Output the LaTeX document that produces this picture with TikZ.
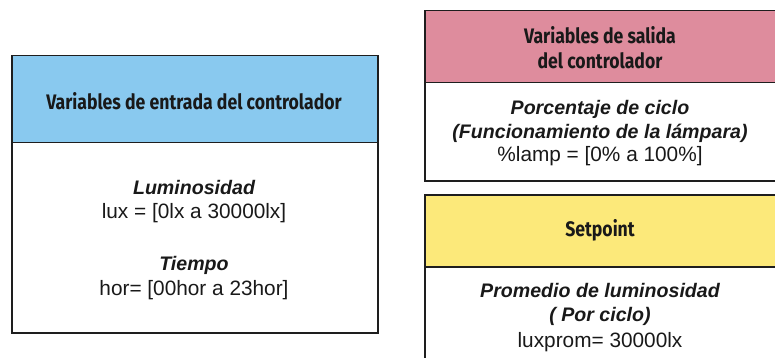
\documentclass[tikz,border=0pt]{standalone}
\usepackage{fontspec}
\setmainfont{Liberation Sans}
\newfontfamily\headfont{Fira Sans}[FakeStretch=0.84]
\definecolor{hblue}{HTML}{89C9EF}
\definecolor{hpink}{HTML}{DE8C9D}
\definecolor{hyellow}{HTML}{FCE97A}
\definecolor{edge}{HTML}{1E1E1E}
\tikzset{
  box/.style={draw=edge, line width=1.5pt, anchor=north west, inner sep=0pt},
  hdr/.style={font=\headfont\bfseries\fontsize{21}{24}\selectfont, text=black!90, align=center},
  ttl/.style={font=\bfseries\itshape\fontsize{19.6}{22}\selectfont, text=black!90},
  val/.style={font=\fontsize{20.8}{24}\selectfont, text=black!90},
}
\begin{document}
\begin{tikzpicture}[x=1pt,y=-1pt]
\useasboundingbox (0,0) rectangle (775,358);
\clip (0,0) rectangle (775,358);
% left box
\node[box, fill=hblue, minimum width=366pt, minimum height=87pt] (inH) at (11,55) {};
\node[box, fill=white, minimum width=366pt, minimum height=190pt] (inB) at (11,142) {};
\node[hdr] (inT) at (194,101) {Variables de entrada del controlador};
\node[ttl] (lum) at (194,187) {Luminosidad};
\node[val] (luxv) at (194,213) {lux = [0lx a 30000lx]};
\node[ttl] (tie) at (194,265) {Tiempo};
\node[val] (horv) at (194,290) {hor= [00hor a 23hor]};
% right top box
\node[box, fill=hpink, minimum width=354pt, minimum height=72pt] (outH) at (424,10) {};
\node[box, fill=white, minimum width=354pt, minimum height=98pt] (outB) at (424,82) {};
\node[hdr] (outT1) at (600,35) {Variables de salida};
\node[hdr] (outT2) at (600,61) {del controlador};
\node[ttl] (pc) at (600,109) {Porcentaje de ciclo};
\node[ttl] (fl) at (600,133) {(Funcionamiento de la lámpara)};
\node[val] (lamp) at (600,156) {\%lamp = [0\% a 100\%]};
% right bottom box
\node[box, fill=hyellow, minimum width=354pt, minimum height=72pt] (spH) at (424,194) {};
\node[box, fill=white, minimum width=354pt, minimum height=120pt] (spB) at (424,266) {};
\node[hdr] (spT) at (600,230) {Setpoint};
\node[ttl] (pl) at (600,290) {Promedio de luminosidad};
\node[ttl] (pcy) at (600,316) {( Por ciclo)};
\node[val] (lp) at (600,342) {luxprom= 30000lx};
\end{tikzpicture}
\end{document}
